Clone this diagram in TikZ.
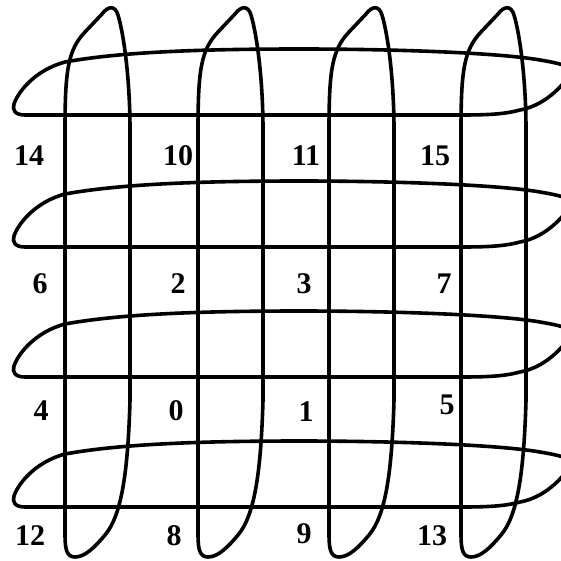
\documentclass[tikz,border=0pt]{standalone}
\usepackage{fontspec}
\setmainfont{Liberation Serif}
\begin{document}
\begin{tikzpicture}[x=1pt,y=-1pt,
  loop/.style={draw=black,line width=3.6pt,line join=round,line cap=round},
  lbl/.style={font=\fontsize{30}{31}\selectfont\bfseries,inner sep=0pt}]
\useasboundingbox (0,0) rectangle (561,560);
% vertical loops
\foreach \dx in {0,133,264,396}{
  \begin{scope}[xshift=\dx pt]
  \draw[loop] (65,535) -- (65,130) .. controls (65,70) and (68,50) .. (85,32)
     -- (102,14) .. controls (108,6) and (115,5) .. (118,15)
     .. controls (124,35) and (130,80) .. (130,130) -- (130,400)
     .. controls (128,470) and (122,515) .. (105,535)
     .. controls (95,547) and (85,557) .. (75,557)
     .. controls (67,557) and (65,550) .. (65,535) -- cycle;
  \end{scope}}
% horizontal loops
\foreach \dy in {0,132,262,392}{
  \begin{scope}[yshift=-\dy pt]
  \draw[loop] (460,115) -- (25,115) .. controls (15,115) and (12,110) .. (14,104)
     .. controls (18,92) and (35,70) .. (65,62)
     .. controls (120,52) and (200,49) .. (300,49)
     .. controls (400,49) and (500,53) .. (540,60)
     .. controls (558,63) and (570,66) .. (572,70)
     .. controls (568,80) and (548,105) .. (520,110)
     .. controls (505,114) and (490,115) .. (460,115) -- cycle;
  \end{scope}}
% labels
\node[lbl] (n14) at (29,156) {14};
\node[lbl] (n10) at (178,156) {10};
\node[lbl] (n11) at (306,156) {11};
\node[lbl] (n15) at (435,156) {15};
\node[lbl] (n6) at (40,284) {6};
\node[lbl] (n2) at (178,284) {2};
\node[lbl] (n3) at (304,284) {3};
\node[lbl] (n7) at (444,284) {7};
\node[lbl] (n4) at (41,411) {4};
\node[lbl] (n0) at (176,411) {0};
\node[lbl] (n1) at (306,412) {1};
\node[lbl] (n5) at (447,405) {5};
\node[lbl] (n12) at (30,536) {12};
\node[lbl] (n8) at (174,536) {8};
\node[lbl] (n9) at (304,534) {9};
\node[lbl] (n13) at (432,536) {13};
\end{tikzpicture}
\end{document}
